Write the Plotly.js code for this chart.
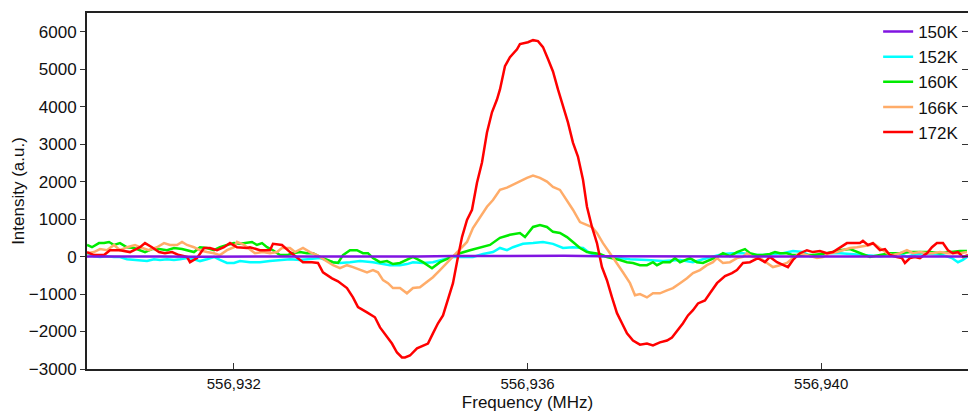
<!DOCTYPE html>
<html>
<head>
<meta charset="utf-8">
<script src="https://cdn.plot.ly/plotly-3.0.1.min.js"></script>
<style>html,body{margin:0;padding:0;background:#fff;}#chart{width:968px;height:414px;}</style>
</head>
<body>
<div id="chart"></div>
<script>
// Frequencies are given as offsets (MHz) from 556,930 MHz
const F0 = 556930;
const seriesNames = ["150K", "152K", "160K", "166K", "172K"];
const seriesColors = ["rgb(128,20,225)", "rgb(0,255,255)", "rgb(0,235,0)", "rgb(255,172,105)", "rgb(255,0,0)"];

const x150 = [0,0.5,1,1.5,2,2.5,3,3.5,4,4.5,5,5.5,6,6.5,7,7.5,8,8.5,9,9.5,10,10.5,11,11.5,12];
const y150 = [0,-10,0,-5,-10,0,5,0,10,5,15,20,25,20,10,5,0,-5,0,5,0,-5,0,5,0];

const x152 = [0,0.095,0.177,0.272,0.368,0.449,0.545,0.640,0.722,0.817,0.913,0.994,1.090,1.185,1.267,1.362,1.457,1.539,1.634,1.730,1.811,1.907,2.002,2.084,2.220,2.356,2.492,2.629,2.765,2.901,3.037,3.173,3.351,3.446,3.582,3.718,3.895,4.127,4.263,4.358,4.440,4.576,4.712,4.849,4.985,5.121,5.257,5.394,5.530,5.625,5.720,5.802,5.938,6.075,6.211,6.347,6.483,6.619,6.756,6.851,6.987,7.123,7.259,7.396,7.627,7.845,8.077,8.254,8.390,8.526,8.662,8.799,8.935,9.071,9.207,9.343,9.480,9.616,9.752,9.847,9.983,10.120,10.256,10.392,10.528,10.664,10.801,10.937,11.073,11.168,11.250,11.386,11.523,11.659,11.781,11.863,11.931,11.986];
const y152 = [90,10,-10,10,-10,-10,-70,-90,-90,-120,-70,-90,-70,-90,-70,-40,-70,-120,-70,-10,-90,-170,-170,-120,-150,-150,-120,-90,-70,-90,-70,-40,-150,-170,-150,-120,-150,-230,-230,-200,-150,-170,-150,-70,-10,-10,-10,70,120,230,170,250,340,360,390,340,230,250,230,90,10,-10,-40,-70,-90,-120,-90,-150,-70,-10,70,90,90,40,40,70,90,150,120,10,40,90,90,70,40,40,10,40,90,-10,40,90,70,40,-40,-150,-90,-10];

const x160 = [0,0.068,0.163,0.232,0.300,0.368,0.449,0.545,0.640,0.722,0.790,0.885,0.981,1.090,1.185,1.294,1.389,1.457,1.539,1.634,1.730,1.811,1.907,2.002,2.084,2.152,2.247,2.315,2.384,2.452,2.533,2.629,2.724,2.806,2.901,2.996,3.078,3.173,3.269,3.351,3.419,3.487,3.582,3.677,3.759,3.827,3.895,3.991,4.086,4.168,4.263,4.358,4.440,4.576,4.699,4.808,4.944,5.080,5.216,5.353,5.489,5.625,5.761,5.897,5.966,6.075,6.170,6.265,6.347,6.442,6.538,6.619,6.715,6.810,6.892,6.987,7.082,7.164,7.259,7.355,7.437,7.532,7.627,7.709,7.763,7.845,7.940,8.009,8.077,8.213,8.308,8.390,8.485,8.581,8.662,8.758,8.853,8.962,9.030,9.125,9.207,9.302,9.371,9.439,9.534,9.616,9.711,9.888,10.079,10.256,10.392,10.528,10.664,10.801,10.937,11.073,11.209,11.345,11.482,11.618,11.754,11.890,11.986];
const y160 = [310,250,360,360,390,310,360,250,230,170,120,200,200,170,230,200,150,120,250,230,170,250,310,360,340,360,390,310,360,250,170,40,40,90,120,90,90,-10,-90,-150,-170,40,170,170,90,90,-40,-150,-120,-200,-170,-90,-10,-150,-310,-150,-40,90,170,250,310,500,580,630,520,790,840,790,660,630,520,390,230,120,90,70,-10,-40,-90,-150,-170,-230,-230,-150,-230,-150,-150,-40,-150,-40,-150,-170,-90,-10,90,10,120,200,90,40,40,70,120,90,90,40,40,40,90,170,200,90,-10,40,90,90,120,120,120,90,120,150,150];

const x166 = [0,0.095,0.177,0.272,0.368,0.449,0.545,0.654,0.722,0.844,0.953,1.049,1.130,1.226,1.294,1.362,1.457,1.539,1.634,1.730,1.811,1.907,2.002,2.043,2.138,2.179,2.288,2.397,2.492,2.588,2.656,2.765,2.833,2.942,3.037,3.133,3.242,3.351,3.446,3.541,3.623,3.718,3.814,3.895,3.963,4.032,4.100,4.168,4.263,4.358,4.440,4.535,4.631,4.712,4.808,4.903,4.985,5.080,5.176,5.257,5.353,5.448,5.530,5.625,5.720,5.802,5.897,5.993,6.075,6.170,6.265,6.347,6.442,6.538,6.619,6.715,6.810,6.878,6.946,7.028,7.123,7.219,7.300,7.396,7.464,7.532,7.627,7.709,7.804,7.900,7.981,8.077,8.172,8.254,8.349,8.444,8.526,8.581,8.662,8.758,8.853,8.935,8.989,9.071,9.166,9.262,9.343,9.439,9.534,9.616,9.711,9.806,9.943,10.024,10.120,10.215,10.297,10.392,10.487,10.569,10.664,10.705,10.801,10.896,10.978,11.073,11.168,11.250,11.345,11.441,11.523,11.618,11.713,11.795,11.890,11.986];
const y166 = [90,120,200,170,310,170,250,310,250,170,250,360,310,310,390,310,250,170,120,90,40,170,250,390,310,250,90,120,90,120,230,230,120,230,120,40,-90,-230,-310,-230,-280,-360,-420,-360,-420,-630,-710,-840,-840,-980,-840,-820,-680,-550,-360,-170,-10,170,390,760,1060,1330,1510,1780,1840,1920,2000,2100,2160,2100,2000,1860,1780,1510,1250,920,840,790,630,360,90,-170,-420,-710,-1030,-1000,-1090,-980,-980,-900,-840,-710,-580,-440,-360,-230,-150,-40,-170,-150,-40,-10,90,-10,-40,-170,-280,-230,-170,-40,90,40,-40,-10,90,120,170,230,250,280,310,360,230,90,40,90,170,90,120,90,90,120,90,90,90,120];

const x172 = [0,0.095,0.232,0.313,0.449,0.586,0.722,0.790,0.885,0.981,1.062,1.158,1.253,1.362,1.403,1.498,1.594,1.675,1.771,1.866,1.948,2.043,2.179,2.220,2.356,2.492,2.533,2.656,2.765,2.874,2.942,3.065,3.146,3.214,3.337,3.419,3.541,3.623,3.691,3.814,3.922,3.991,4.086,4.154,4.222,4.290,4.331,4.399,4.495,4.576,4.644,4.712,4.781,4.849,4.917,4.985,5.053,5.108,5.176,5.244,5.312,5.380,5.448,5.516,5.584,5.625,5.693,5.761,5.857,5.897,6.006,6.075,6.143,6.211,6.279,6.347,6.415,6.483,6.551,6.619,6.687,6.756,6.810,6.878,6.946,7.014,7.082,7.151,7.219,7.287,7.355,7.437,7.532,7.627,7.709,7.804,7.900,7.968,8.049,8.118,8.186,8.254,8.322,8.417,8.485,8.581,8.690,8.785,8.853,8.935,9.030,9.139,9.234,9.302,9.398,9.480,9.548,9.616,9.711,9.806,9.888,9.983,10.079,10.161,10.256,10.351,10.433,10.528,10.569,10.637,10.705,10.801,10.869,10.937,11.032,11.100,11.141,11.209,11.277,11.345,11.441,11.509,11.577,11.659,11.727,11.795,11.863,11.931,12.000];
const y172 = [120,40,40,170,170,120,250,360,250,120,90,120,40,-10,-150,-40,230,230,170,250,360,250,230,250,170,170,340,310,120,-40,-150,-150,-170,-420,-580,-660,-840,-1090,-1350,-1490,-1620,-1890,-2160,-2320,-2560,-2690,-2690,-2640,-2450,-2370,-2320,-2050,-1780,-1570,-1170,-710,-10,520,980,1250,1970,2510,3310,3850,4190,4460,5080,5320,5530,5670,5720,5775,5750,5590,5270,4940,4460,4010,3580,3040,2670,2050,1330,790,360,-280,-630,-1090,-1510,-1780,-2050,-2240,-2350,-2320,-2370,-2290,-2240,-2160,-1970,-1780,-1570,-1430,-1250,-1170,-980,-710,-520,-440,-360,-170,-150,-40,-150,-10,-150,-230,-280,-90,90,170,120,150,90,120,250,360,360,360,420,310,360,170,200,40,-10,-40,-170,-40,-10,-40,90,250,360,360,170,90,120,-10,40];

const xs = [x150, x152, x160, x166, x172];
const ys = [y150, y152, y160, y166, y172];

const traces = seriesNames.map((name, i) => ({
  type: 'scatter',
  mode: 'lines',
  name: name,
  x: xs[i].map(d => F0 + d),
  y: ys[i],
  line: {color: seriesColors[i], width: 2.5},
  legendgroup: 'g' + i,
  yaxis: i === 0 ? 'y2' : 'y'
}));

const font = {family: 'Liberation Sans, Arial, Helvetica, sans-serif', color: '#111'};

const layout = {
  width: 968, height: 414,
  margin: {l: 87, r: 0, t: 13, b: 45},
  paper_bgcolor: '#fff', plot_bgcolor: '#fff',
  separators: '.,',
  showlegend: true,
  font: Object.assign({size: 15}, font),
  xaxis: {
    range: [556930, 556942],
    tickvals: [556932, 556936, 556940],
    tickformat: ',d',
    ticks: 'inside', ticklen: 6, tickwidth: 1, tickcolor: '#333',
    showline: true, linecolor: '#222', linewidth: 2, mirror: true,
    showgrid: false, zeroline: false,
    tickfont: Object.assign({size: 15}, font),
    title: {text: 'Frequency (MHz)', font: Object.assign({size: 17}, font), standoff: 5}
  },
  yaxis: {
    range: [-3000, 6500],
    tickvals: [-3000,-2000,-1000,0,1000,2000,3000,4000,5000,6000],
    ticktext: ['\u22123000','\u22122000','\u22121000','0','1000','2000','3000','4000','5000','6000'],
    ticks: 'outside', ticklen: 5, tickwidth: 1, tickcolor: '#333',
    showline: true, linecolor: '#222', linewidth: 2, mirror: false,
    showgrid: false, zeroline: false,
    tickfont: Object.assign({size: 17}, font),
    title: {text: 'Intensity (a.u.)', font: Object.assign({size: 17}, font), standoff: 0}
  },
  yaxis2: {
    range: [-3000, 6500],
    overlaying: 'y', side: 'right',
    tickvals: [-3000,-2000,-1000,0,1000,2000,3000,4000,5000,6000],
    showticklabels: false,
    ticks: 'inside', ticklen: 6, tickwidth: 1, tickcolor: '#333',
    showline: false, showgrid: false, zeroline: false
  },
  legend: {
    x: 0.898, y: 0.997, xanchor: 'left', yanchor: 'top',
    bgcolor: 'rgba(255,255,255,0)', borderwidth: 0,
    traceorder: 'grouped', tracegroupgap: 0,
    font: Object.assign({size: 17}, font)
  }
};

Plotly.newPlot('chart', traces, layout, {displayModeBar: false, staticPlot: true});
</script>
</body>
</html>
